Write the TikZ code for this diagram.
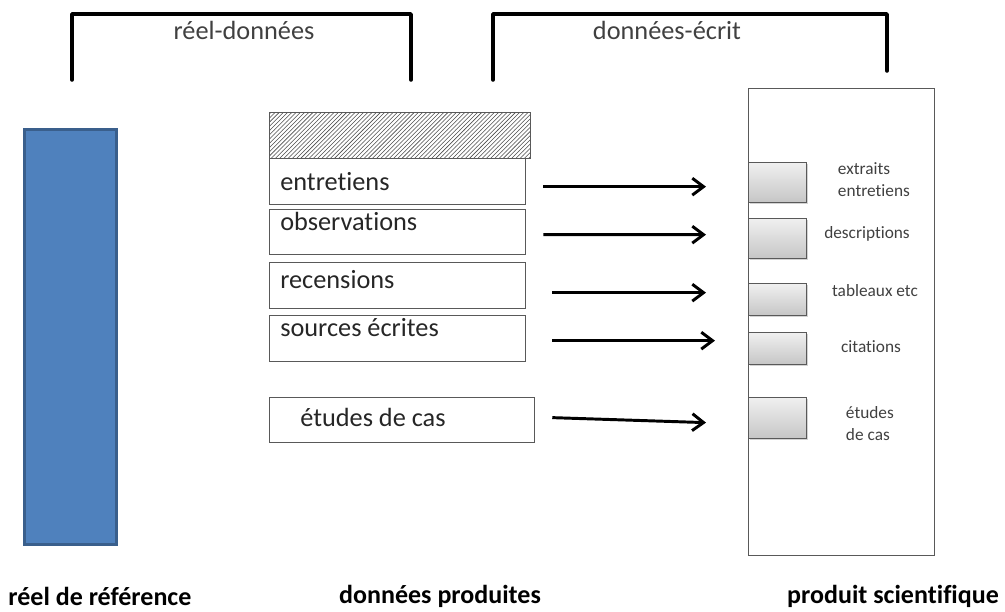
\documentclass[tikz,border=0pt]{standalone}
\usepackage{fontspec}
\setmainfont{Carlito}[Ligatures=NoCommon]
\usetikzlibrary{arrows.meta,patterns,shadows}
\newlength\pxu
\setlength\pxu{0.025cm}
\definecolor{boxline}{HTML}{595959}
\definecolor{txtgray}{HTML}{404040}
\definecolor{reelblue}{HTML}{4F81BD}
\definecolor{reelborder}{HTML}{3A5F8C}
\tikzset{
  bracket/.style={draw=black, line width=2.5pt, line cap=round, line join=round},
  databox/.style={draw=boxline, line width=0.9pt, rectangle, anchor=north west, inner sep=0pt},
  hatchbox/.style={databox, pattern=north east lines, pattern color=black!70},
  reelbar/.style={draw=reelborder, fill=reelblue, line width=2pt, rectangle, anchor=north west, inner sep=0pt},
  outbox/.style={databox, top color=gray!12, bottom color=gray!45,
    drop shadow={shadow xshift=1.2pt, shadow yshift=-1.2pt, opacity=0.35}},
  boxtext/.style={anchor=base west, inner sep=0pt, font=\fontsize{18.7}{22}\selectfont, text=black!85},
  outtext/.style={font=\fontsize{12.3}{15.6}\selectfont, text=txtgray, align=left},
  toptext/.style={font=\fontsize{18.7}{22}\selectfont, text=txtgray},
  caption/.style={font=\bfseries\fontsize{18.5}{22}\selectfont, text=black},
  flow/.style={-{Straight Barb[length=8pt,width=12pt]}, line width=2.1pt}
}

\begin{document}
\begin{tikzpicture}[x=0.025cm, y=-0.025cm]
  \useasboundingbox (0,0) rectangle (1005,611);

  % brackets at the top
  \draw[bracket] (72,80) -- (72,14) -- (411,14) -- (411,80);
  \draw[bracket] (493,80) -- (493,14) -- (887,14) -- (887,71);
  \node[toptext] (tl) at (244,30) {réel-données};
  \node[toptext] (tr) at (667,30) {données-écrit};

  % real world
  \node[reelbar, minimum width=92\pxu, minimum height=415\pxu] (reel) at (23,128) {};

  % produced data
  \node[hatchbox, minimum width=261\pxu, minimum height=46\pxu] (hatch) at (269,112) {};
  \node[databox, minimum width=256\pxu, minimum height=46\pxu,
    label={[boxtext, xshift=11\pxu, yshift=-32\pxu]north west:entretiens}] (ent) at (269,158) {};
  \node[databox, minimum width=256\pxu, minimum height=45\pxu,
    label={[boxtext, xshift=11\pxu, yshift=-21\pxu]north west:observations}] (obs) at (269,209) {};
  \node[databox, minimum width=256\pxu, minimum height=46\pxu,
    label={[boxtext, xshift=11\pxu, yshift=-26\pxu]north west:recensions}] (rec) at (269,262) {};
  \node[databox, minimum width=256\pxu, minimum height=46\pxu,
    label={[boxtext, xshift=11\pxu, yshift=-21\pxu]north west:sources écrites}] (src) at (269,315) {};
  \node[databox, minimum width=265\pxu, minimum height=45\pxu,
    label={[boxtext, xshift=31\pxu, yshift=-29\pxu]north west:études de cas}] (etu) at (269,397) {};

  % scientific product
  \node[databox, minimum width=186\pxu, minimum height=467\pxu] (prod) at (748,88) {};
  \node[outbox, minimum width=58\pxu, minimum height=40\pxu] (sm1) at (748,162) {};
  \node[outbox, minimum width=58\pxu, minimum height=40\pxu] (sm2) at (748,218) {};
  \node[outbox, minimum width=58\pxu, minimum height=32\pxu] (sm3) at (748,283) {};
  \node[outbox, minimum width=58\pxu, minimum height=32\pxu] (sm4) at (748,332) {};
  \node[outbox, minimum width=58\pxu, minimum height=41\pxu] (sm5) at (748,397) {};

  \node[outtext, anchor=west] (lext) at (833,180) {extraits\\entretiens};
  \node[outtext] (ldes) at (867,234) {descriptions};
  \node[outtext] (ltab) at (875,291) {tableaux etc};
  \node[outtext] (lcit) at (871,347) {citations};
  \node[outtext, anchor=west] (letu) at (841,423.5) {études\\de cas};

  % arrows
  \draw[flow] ([shift={(17,5)}]ent.east) -- ([shift={(-42,4)}]sm1.west);
  \draw[flow] ([shift={(17,2.5)}]obs.east) -- ([shift={(-42,-4)}]sm2.west);
  \draw[flow] ([shift={(26,7)}]rec.east) -- ([shift={(-42,-7)}]sm3.west);
  \draw[flow] ([shift={(26,2)}]src.east) -- ([shift={(-33,-8)}]sm4.west);
  \draw[flow] ([shift={(17,-2.5)}]etu.east) -- ([shift={(-42,4.5)}]sm5.west);

  % captions
  \node[caption] (c1) at (100,596) {réel de référence};
  \node[caption] (c2) at (440,596) {données produites};
  \node[caption] (c3) at (893,596) {produit scientifique};
\end{tikzpicture}
\end{document}
